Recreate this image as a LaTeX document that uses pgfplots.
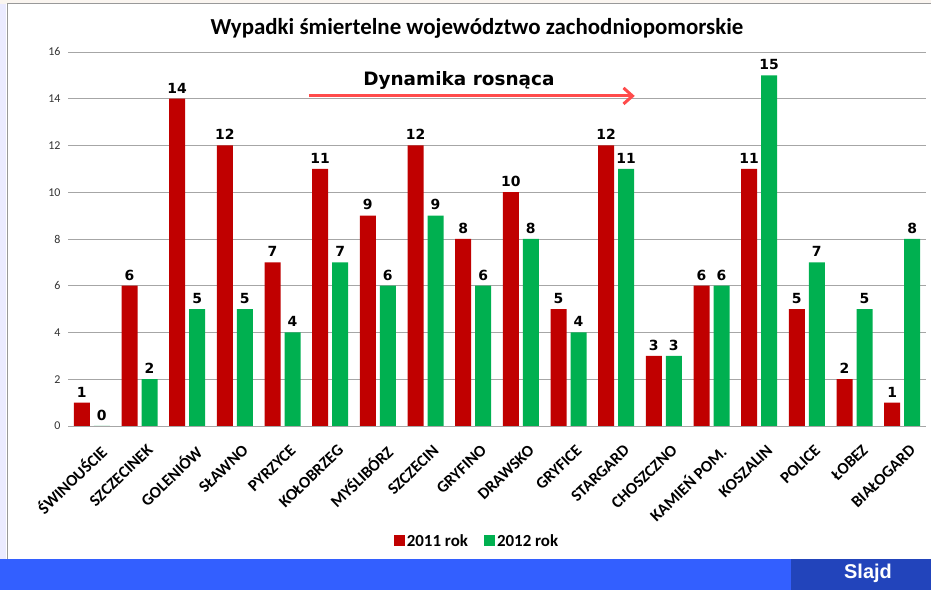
\documentclass[border=0pt]{standalone}
\usepackage{pgfplots}
\pgfplotsset{compat=1.18}
\usetikzlibrary{arrows.meta}
\usepackage{fontspec}
\setmainfont{Carlito}
\newfontfamily\verd{DejaVu Sans}
\newfontfamily\arial{Liberation Sans}
\definecolor{cred}{HTML}{C00000}
\definecolor{cgreen}{HTML}{00B050}
\definecolor{band}{HTML}{335FFF}
\definecolor{bandd}{HTML}{2244BB}
\definecolor{arr}{HTML}{FF4B4B}
\begin{document}
\begin{tikzpicture}
\useasboundingbox (0bp,0bp) rectangle (931bp,590bp);
\fill[white] (0bp,0bp) rectangle (931bp,590bp);
\fill[blue!8] (0bp,0bp) rectangle (6bp,590bp);
\fill[brown!8] (0bp,586bp) rectangle (931bp,590bp);
\draw[gray!80, line width=1bp] (7bp,31bp) -- (7bp,586bp) -- (931bp,586bp);
\fill[band] (0bp,0bp) rectangle (931bp,31bp);
\fill[bandd] (791bp,0bp) rectangle (931bp,31bp);
\node[text=white, font=\arial\bfseries\fontsize{20}{22}\selectfont] at (868bp,17bp) {Slajd};
\node[font=\bfseries\fontsize{23}{26}\selectfont] at (477bp,562bp) {Wypadki śmiertelne województwo zachodniopomorskie};
\begin{axis}[
  at={(68bp,164bp)}, anchor=south west,
  scale only axis, width=858bp, height=374bp,
  ymin=0, ymax=16, ytick={0,2,...,16},
  xmin=-0.5, xmax=17.5,
  xtick={0,...,17},
  xticklabels={ŚWINOUŚCIE,SZCZECINEK,GOLENIÓW,SŁAWNO,PYRZYCE,KOŁOBRZEG,MYŚLIBÓRZ,SZCZECIN,GRYFINO,DRAWSKO,GRYFICE,STARGARD,CHOSZCZNO,KAMIEŃ POM.,KOSZALIN,POLICE,ŁOBEZ,BIAŁOGARD},
  xticklabel style={rotate=44, anchor=north east, font=\bfseries\fontsize{16.5}{18}\selectfont, xshift=-4bp, yshift=-14bp},
  yticklabel style={font=\fontsize{12}{13}\selectfont, text=black!80, xshift=-4bp},
  /pgf/number format/assume math mode=true,
  axis line style={draw=none},
  major tick length=0pt,
  ymajorgrids, grid style={gray!70, line width=0.9bp},
  ybar=4bp, bar width=16bp,
  nodes near coords,
  nodes near coords style={font=\verd\bfseries\fontsize{14}{15}\selectfont, text=black, yshift=2bp},
  legend style={at={(0.4767,-0.307)}, anchor=center, draw=none, fill=none, legend columns=2, font=\bfseries\fontsize{17}{18}\selectfont, /tikz/every even column/.append style={column sep=14bp}},
  legend image code/.code={\fill[#1] (0bp,-5.5bp) rectangle (11bp,5.5bp);},
  clip=false,
]
\addplot[fill=cred, draw=none] coordinates {(0,1) (1,6) (2,14) (3,12) (4,7) (5,11) (6,9) (7,12) (8,8) (9,10) (10,5) (11,12) (12,3) (13,6) (14,11) (15,5) (16,2) (17,1)};
\addplot[fill=cgreen, draw=none] coordinates {(0,0) (1,2) (2,5) (3,5) (4,4) (5,7) (6,6) (7,9) (8,6) (9,8) (10,4) (11,11) (12,3) (13,6) (14,15) (15,7) (16,5) (17,8)};
\legend{2011 rok,2012 rok}
\draw[arr, line width=3bp, -{Straight Barb[length=9bp,width=16bp]}] (axis cs:4.56,14.12) -- (axis cs:11.39,14.12);
\node[font=\verd\bfseries\fontsize{18.5}{20}\selectfont] at (axis cs:7.70,14.8) {Dynamika rosnąca};
\end{axis}
\end{tikzpicture}
\end{document}
